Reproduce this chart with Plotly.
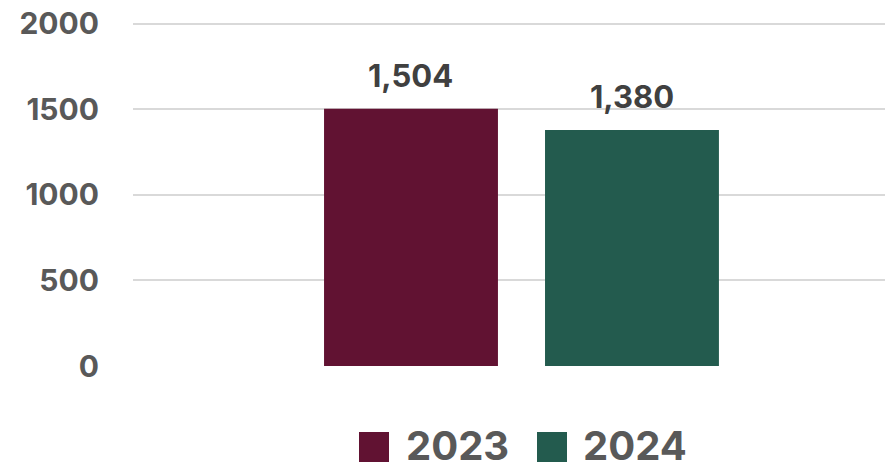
import plotly.graph_objects as go

years = ["2023", "2024"]
values = [1504, 1380]
colors = ["#611232", "#235B4E"]
y_ticks = [0, 500, 1000, 1500, 2000]

FONT = "Inter"

fig = go.Figure()
for i, (yr, val, col) in enumerate(zip(years, values, colors)):
    fig.add_trace(go.Bar(
        x=[yr], y=[val], name=yr,
        marker=dict(color=col, line=dict(width=0)),
        showlegend=False,
    ))
    # data label above each bar (category index as x)
    fig.add_annotation(
        x=i, y=val, xref="x", yref="y", text=f"<b>{val:,}</b>",
        showarrow=False, yanchor="middle", yshift=33,
        font=dict(family=FONT, size=31, color="#404040"),
    )

# plot area in the page: x 133..885, y 17..366 (range 0..2040)
PLOT_H = 349


def px(x):
    return (x - 133) / 752


def py(y):
    return (366 - y) / PLOT_H


# legend drawn by hand so the swatches can be large
swatch_x = [359, 537]
text_x = [404, 581]
for yr, col, sx, tx in zip(years, colors, swatch_x, text_x):
    fig.add_shape(
        type="rect", xref="paper", yref="paper",
        x0=px(sx), x1=px(sx + 30), y0=py(462), y1=py(432),
        fillcolor=col, line=dict(width=0),
    )
    fig.add_annotation(
        xref="paper", yref="paper", x=px(tx), y=py(445),
        xanchor="left", yanchor="middle", showarrow=False,
        text=f"<b>{yr}</b>",
        font=dict(family=FONT, size=40, color="#595959"),
    )

fig.update_layout(
    width=885, height=469,
    margin=dict(l=133, r=0, t=17, b=103),
    plot_bgcolor="white", paper_bgcolor="white",
    bargap=0.213,
    showlegend=False,
    font=dict(family=FONT, color="#595959"),
)
fig.update_xaxes(
    type="category", range=[-1.258, 2.145], showticklabels=False,
    showgrid=False, zeroline=False, showline=False, ticks="",
)
fig.update_yaxes(
    range=[0, 2040], tickvals=y_ticks,
    ticktext=[f"<b>{v}</b>" for v in y_ticks],
    tickfont=dict(family=FONT, size=30, color="#595959"),
    showgrid=True, gridcolor="#d9d9d9", gridwidth=1.5,
    zeroline=False, showline=False, ticks="",
    ticklabelstandoff=33,
)

# drop the browser's default body margin so the figure sits at 0,0
fig.write_html(
    "out.html",
    config={"displayModeBar": False},
    post_script="document.body.style.margin='0';",
)
